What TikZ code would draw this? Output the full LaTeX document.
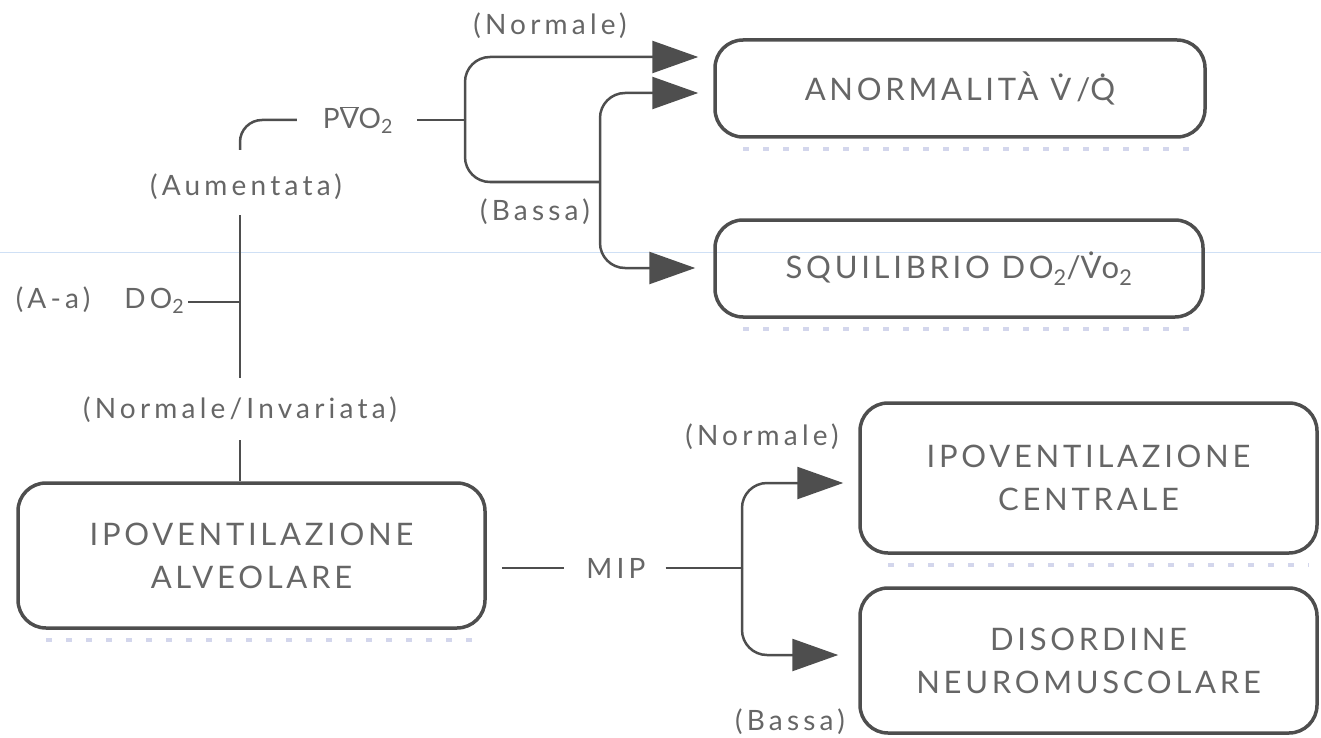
\documentclass[tikz,border=0pt]{standalone}
\usepackage{fontspec}
\setmainfont{Lato}
\newfontfamily\labfont{Lato}[LetterSpace=15]
\newfontfamily\boxfont{Lato}[LetterSpace=12]
\usetikzlibrary{arrows.meta}
\definecolor{lncol}{HTML}{4E4E4E}
\definecolor{txcol}{HTML}{666666}
\definecolor{scancol}{HTML}{CFE0F5}
\definecolor{shadcol}{HTML}{D3D6EC}
\newcommand\overdot[1]{\leavevmode\vbox{\offinterlineskip\halign{\hfil##\hfil\cr .\cr\noalign{\kern0.02em}#1\cr}}}
\newcommand\barV{\ensuremath{\overline{\mbox{V}}}}
\tikzset{
  lab/.style={text=txcol, font=\labfont\fontsize{28}{32}\selectfont, inner sep=0pt},
  box/.style={draw=lncol, line width=3.5pt, rounded corners=28pt, text=txcol, align=center,
              font=\boxfont\fontsize{31}{43}\selectfont, inner sep=0pt},
  conn/.style={draw=lncol, line width=2.5pt},
  arr/.style={conn, -{Triangle[length=46pt,width=32pt]}},
  shad/.style={draw=shadcol, line width=4pt, dash pattern=on 6pt off 14pt},
}
\begin{document}
\begin{tikzpicture}[x=1pt,y=-1pt]
\useasboundingbox (0,0) rectangle (1321,738);
\draw[scancol, line width=1pt] (0,252) -- (1321,252);

% boxes
\node[box, minimum width=490pt, minimum height=97pt] (anorm) at (960,88.5) {ANORMALIT\`A \overdot{V}\,/\overdot{Q}};
\node[box, minimum width=488pt, minimum height=97pt] (squil) at (959,268.5) {SQUILIBRIO DO\textsubscript{2}/\overdot{V}o\textsubscript{2}};
\node[box, minimum width=457pt, minimum height=150pt] (cent) at (1088.5,478) {IPOVENTILAZIONE\\CENTRALE};
\node[box, minimum width=457pt, minimum height=145pt] (dis) at (1088.5,660.5) {DISORDINE\\NEUROMUSCOLARE};
\node[box, minimum width=467pt, minimum height=145pt] (alv) at (251.5,555.5) {IPOVENTILAZIONE\\ALVEOLARE};

% faint print shadows
\draw[shad] ([xshift=30pt,yshift=-10pt]anorm.south west) -- ([xshift=-10pt,yshift=-10pt]anorm.south east);
\draw[shad] ([xshift=30pt,yshift=-10pt]squil.south west) -- ([xshift=-10pt,yshift=-10pt]squil.south east);
\draw[shad] ([xshift=30pt,yshift=-10pt]cent.south west) -- ([xshift=-10pt,yshift=-10pt]cent.south east);
\draw[shad] ([xshift=30pt,yshift=-10pt]alv.south west) -- ([xshift=-10pt,yshift=-10pt]alv.south east);

% labels
\node[lab] (n1) at (550,26) {(Normale)};
\node[lab] (pvo) at (358,120) {P\barV O\textsubscript{2}};
\node[lab] (aum) at (246,187) {(Aumentata)};
\node[lab] (bas1) at (535,212) {(Bassa)};
\node[lab] (aado) at (100,300) {(A-a)\ \ \ DO\textsubscript{2}};
\node[lab] (ninv) at (240,410) {(Normale/Invariata)};
\node[lab] (mip) at (616,568) {MIP};
\node[lab] (n2) at (762,437) {(Normale)};
\node[lab] (bas2) at (790,722) {(Bassa)};

% helper coordinates
\coordinate (bx1) at (465,120);
\coordinate (bx2) at (600,182);
\coordinate (aumtop) at (240,150);
\coordinate (vtop) at (240,215);
\coordinate (jA) at (240,302);
\coordinate (vmid) at (240,378);
\coordinate (vbot) at (240,440);
\coordinate (mipj) at (742,568);
\coordinate (yA1) at (0,57);
\coordinate (yA2) at (0,93);
\coordinate (yS) at (0,268);
\coordinate (yC) at (0,483);
\coordinate (yD) at (0,655);

% upper part
\draw[conn, rounded corners=22pt, shorten >=26pt] (aumtop) |- (pvo.west);
\draw[conn, shorten <=24pt] (pvo.east) -- (bx1);
\draw[arr, rounded corners=25pt, shorten >=15pt] (bx1) |- (anorm.west |- yA1);
\draw[conn, rounded corners=25pt] (bx1) |- (bx2);
\draw[conn, {Triangle[length=46pt,width=32pt]}-{Triangle[length=46pt,width=32pt]}, rounded corners=25pt, shorten <=15pt, shorten >=18pt]
  (anorm.west |- yA2) -| (bx2) |- (squil.west |- yS);

% main vertical
\draw[conn] (vtop) -- (vmid);
\draw[conn, shorten <=4pt] (aado.east |- jA) -- (jA);
\draw[conn] (vbot) -- (vbot |- alv.north);

% MIP part
\draw[conn, shorten <=15pt, shorten >=22pt] (alv.east |- mip) -- (mip.west);
\draw[conn, shorten <=20pt] (mip.east) -- (mipj);
\draw[arr, rounded corners=25pt, shorten >=15pt] (mipj) |- (cent.west |- yC);
\draw[arr, rounded corners=25pt, shorten >=20pt] (mipj) |- (dis.west |- yD);
\end{tikzpicture}
\end{document}
